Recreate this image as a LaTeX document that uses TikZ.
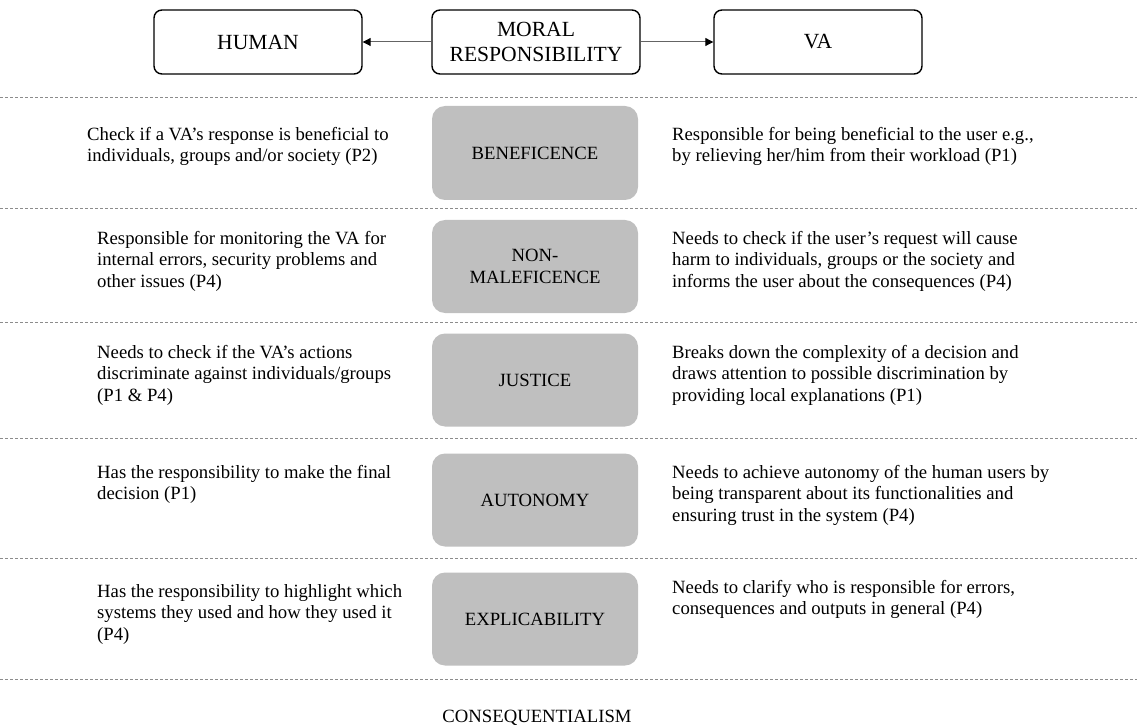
\documentclass[tikz,border=0pt]{standalone}
\usepackage{fontspec}
\setmainfont{Liberation Serif}
\usetikzlibrary{arrows.meta}
\definecolor{boxgray}{RGB}{191,191,191}
\definecolor{linegray}{RGB}{140,140,140}
\definecolor{arrowgray}{RGB}{100,100,100}
\newcommand\lineone{\rule{0pt}{14pt}}
\begin{document}
\begin{tikzpicture}[x=1pt,y=-1pt,
  every node/.style={font=\fontsize{18.7}{21.5}\selectfont},
  topbox/.style={draw=black, line width=1.4pt, rounded corners=8pt,
    minimum width=208pt, minimum height=64pt, align=center, inner sep=0pt,
    font=\fontsize{21.6}{25}\selectfont},
  valuebox/.style={fill=boxgray, rounded corners=13pt,
    minimum width=206pt, minimum height=93pt, align=center, inner sep=0pt},
  sep/.style={draw=linegray, line width=0.9pt, dash pattern=on 3pt off 2pt},
  desc/.style={anchor=north west, align=left, inner sep=0pt},
  link/.style={draw=arrowgray, line width=1pt,
    -{Triangle[length=8pt,width=8pt,color=black]}}
]
\useasboundingbox (0,0) rectangle (1137,727);

% header: the two bearers of moral responsibility
\node[topbox] (human) at (258,42) {HUMAN};
\node[topbox] (moral) at (536,42) {MORAL\\RESPONSIBILITY};
\node[topbox] (va)    at (818,42) {VA};
\draw[link] (moral.west) -- (human.east);
\draw[link] (moral.east) -- (va.west);

% row separators
\foreach \yy in {97,208,322,438,558,679}
  \draw[sep] (0,\yy) -- (1137,\yy);

% principles
\node[valuebox, minimum height=94pt] (benef) at (535,153) {BENEFICENCE};
\node[valuebox] (nonmal) at (535,266.5) {NON-\\MALEFICENCE};
\node[valuebox] (just)   at (535,380) {JUSTICE};
\node[valuebox] (auton)  at (535,500) {AUTONOMY};
\node[valuebox] (expl)   at (535,619) {EXPLICABILITY};

% human side (first baseline = y + 14)
\node[desc] (h1) at (87,126) {\lineone Check if a VA’s response is beneficial to\\individuals, groups and/or society (P2)};
\node[desc] (h2) at (97,230) {\lineone Responsible for monitoring the VA for\\internal errors, security problems and\\other issues (P4)};
\node[desc] (h3) at (97,344) {\lineone Needs to check if the VA’s actions\\discriminate against individuals/groups\\(P1 \& P4)};
\node[desc] (h4) at (97,464) {\lineone Has the responsibility to make the final\\decision (P1)};
\node[desc] (h5) at (97,583) {\lineone Has the responsibility to highlight which\\systems they used and how they used it\\(P4)};

% VA side
\node[desc] (v1) at (672,126) {\lineone Responsible for being beneficial to the user e.g.,\\by relieving her/him from their workload (P1)};
\node[desc] (v2) at (672,230) {\lineone Needs to check if the user’s request will cause\\harm to individuals, groups or the society and\\informs the user about the consequences (P4)};
\node[desc] (v3) at (672,344) {\lineone Breaks down the complexity of a decision and\\draws attention to possible discrimination by\\providing local explanations (P1)};
\node[desc] (v4) at (672,464) {\lineone Needs to achieve autonomy of the human users by\\being transparent about its functionalities and\\ensuring trust in the system (P4)};
\node[desc] (v5) at (672,579) {\lineone Needs to clarify who is responsible for errors,\\consequences and outputs in general (P4)};

\node[anchor=base] (conseq) at (537,722) {CONSEQUENTIALISM};
\end{tikzpicture}
\end{document}
